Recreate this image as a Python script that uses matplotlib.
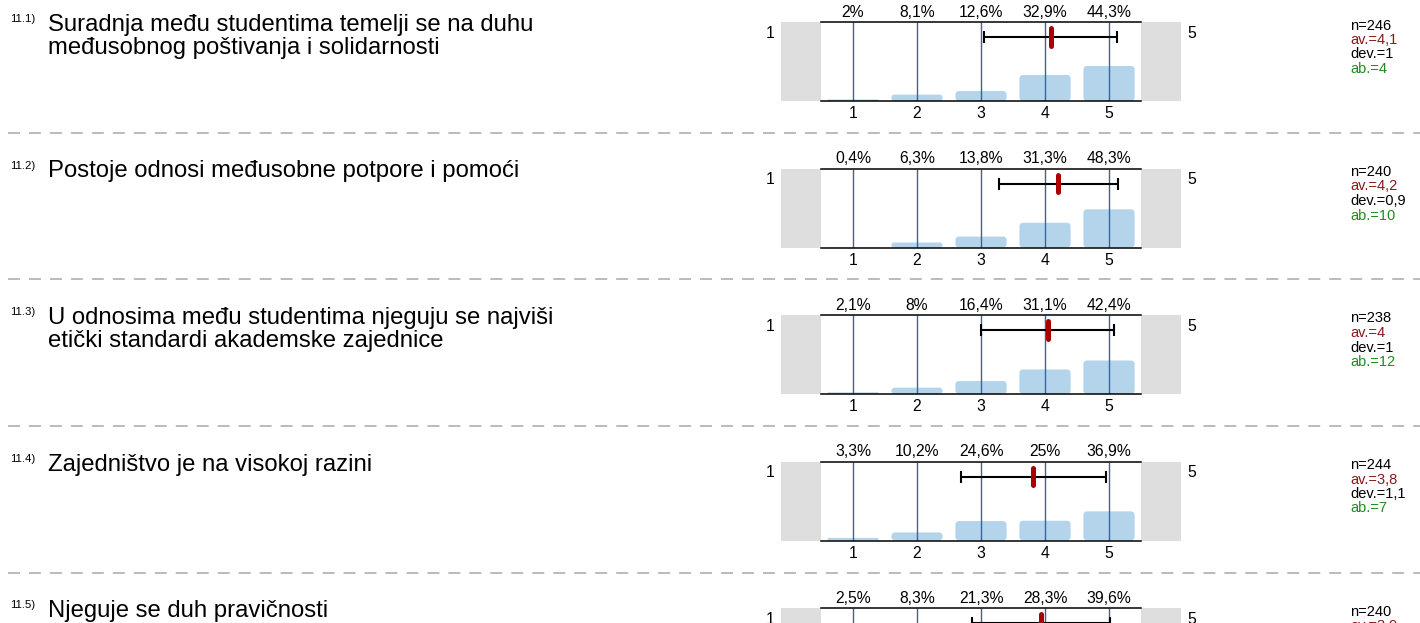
import matplotlib
matplotlib.use("Agg")
import matplotlib.pyplot as plt
from matplotlib.patches import FancyBboxPatch, Rectangle
from matplotlib.lines import Line2D

plt.rcParams['font.family'] = ['Liberation Sans', 'DejaVu Sans']
plt.rcParams['lines.scale_dashes'] = False

# ---- survey data ---------------------------------------------------------
item_numbers = ["11.1)", "11.2)", "11.3)", "11.4)", "11.5)"]
questions = [
    ["Suradnja među studentima temelji se na duhu",
     "međusobnog poštivanja i solidarnosti"],
    ["Postoje odnosi međusobne potpore i pomoći"],
    ["U odnosima među studentima njeguju se najviši",
     "etički standardi akademske zajednice"],
    ["Zajedništvo je na visokoj razini"],
    ["Njeguje se duh pravičnosti"],
]
scale_values = [1, 2, 3, 4, 5]

share_11_1 = [2.0, 8.1, 12.6, 32.9, 44.3]
share_11_2 = [0.4, 6.3, 13.8, 31.3, 48.3]
share_11_3 = [2.1, 8.0, 16.4, 31.1, 42.4]
share_11_4 = [3.3, 10.2, 24.6, 25.0, 36.9]
share_11_5 = [2.5, 8.3, 21.3, 28.3, 39.6]
shares = [share_11_1, share_11_2, share_11_3, share_11_4, share_11_5]

n_counts = [246, 240, 238, 244, 240]
means = [4.09, 4.21, 4.04, 3.82, 3.94]
deviations = [1.04, 0.93, 1.04, 1.13, 1.08]
abstentions = [4, 10, 12, 7, 5]

# ---- styling ---------------------------------------------------------------
W, H = 1420, 623
BAR_COLOR = "#b4d4eb"
GRID_COLOR = "#34679a"
SIDE_GRAY = "#dedede"
MEAN_RED = "#aa0000"
AV_COLOR = "#8b1a1a"
AB_COLOR = "#1e8c1e"
SEP_COLOR = "#a8a8a8"

PANEL_LEFT, PANEL_W, PANEL_H = 821, 320, 79
PANEL_TOP0, PANEL_STEP = 22, 146.5
SMALL = 11.3


def fx(px):
    return px / W


def fy(py):
    return 1 - py / H


def num(v):
    return f"{round(v, 1):g}".replace(".", ",")


fig = plt.figure(figsize=(W / 100, H / 100), dpi=100)

for i in range(len(shares)):
    top = PANEL_TOP0 + PANEL_STEP * i
    ax = fig.add_axes([fx(PANEL_LEFT), fy(top + PANEL_H),
                       PANEL_W / W, PANEL_H / H])
    ax.set_xlim(0.5, 5.5)
    ax.set_ylim(0, 100)
    ax.patch.set_alpha(0)
    for side in ("left", "right"):
        ax.spines[side].set_visible(False)
    for side in ("top", "bottom"):
        ax.spines[side].set_linewidth(1.1)
        ax.spines[side].set_color("black")
        ax.spines[side].set_zorder(6)
    ax.set_yticks([])
    ax.set_xticks(scale_values, [str(v) for v in scale_values])
    ax.tick_params(axis="x", length=0, pad=3.8, labelsize=SMALL)

    # grey end blocks of the scale
    unit_px = PANEL_W / 5.0
    gray_w = 40 / unit_px
    for x0 in (0.5 - gray_w, 5.5):
        ax.add_patch(Rectangle((x0, 0), gray_w, 100, facecolor=SIDE_GRAY,
                               edgecolor="none", clip_on=False, zorder=0))

    # distribution bars with rounded corners
    aspect = (100 / PANEL_H) / (1 / unit_px)
    bars = ax.bar(scale_values, shares[i], width=0.8, alpha=0)
    for rect in bars:
        x0, w, h = rect.get_x(), rect.get_width(), rect.get_height()
        r = min(0.06, w / 2, (h / aspect) / 2)
        ax.add_patch(FancyBboxPatch((x0, 0), w, h,
                                    boxstyle=f"round,pad=0,rounding_size={r}",
                                    mutation_aspect=aspect,
                                    facecolor=BAR_COLOR, edgecolor="none",
                                    zorder=1))

    ax.vlines(scale_values, 0, 100, color=GRID_COLOR, lw=1.0, zorder=2)

    # percentages above the panel
    for x, v in zip(scale_values, shares[i]):
        ax.annotate(num(v) + "%", (x, 100), xytext=(0, 3.8),
                    textcoords="offset points", ha="center", va="baseline",
                    fontsize=SMALL, annotation_clip=False)

    # mean with +/- one standard deviation
    y_err = 81
    ax.errorbar(means[i], y_err, xerr=deviations[i], fmt="none",
                ecolor="black", elinewidth=1.5, capsize=4, capthick=1.5,
                zorder=4)
    ax.plot([means[i], means[i]], [y_err - 11, y_err + 11], color=MEAN_RED,
            lw=3.6, solid_capstyle="round", zorder=5)

    # scale end labels
    fig.text(fx(770), fy(top + 15.8), str(scale_values[0]), ha="center",
             va="baseline", fontsize=SMALL)
    fig.text(fx(1192), fy(top + 15.8), str(scale_values[-1]), ha="center",
             va="baseline", fontsize=SMALL)

    # question text
    fig.text(fx(10), fy(top + 0.3), item_numbers[i], ha="left",
             va="baseline", fontsize=8.2)
    for k, line in enumerate(questions[i]):
        fig.text(fx(48), fy(top + 9 + 22.7 * k), line, ha="left",
                 va="baseline", fontsize=17.2)

    # summary statistics
    stats = [(f"n={n_counts[i]}", "black"),
             (f"av.={num(means[i])}", AV_COLOR),
             (f"dev.={num(deviations[i])}", "black"),
             (f"ab.={abstentions[i]}", AB_COLOR)]
    for k, (txt, col) in enumerate(stats):
        fig.text(fx(1350), fy(top + 7.5 + 14.5 * k), txt, ha="left",
                 va="baseline", fontsize=10.5, color=col)

# dashed separators between items
for i in range(len(shares) - 1):
    y = 133 + PANEL_STEP * i
    fig.add_artist(Line2D([fx(8), 1.0], [fy(y), fy(y)],
                          transform=fig.transFigure, color=SEP_COLOR,
                          lw=1.1, dashes=(8.6, 6.5)))

fig.savefig("out.png", dpi=100)
